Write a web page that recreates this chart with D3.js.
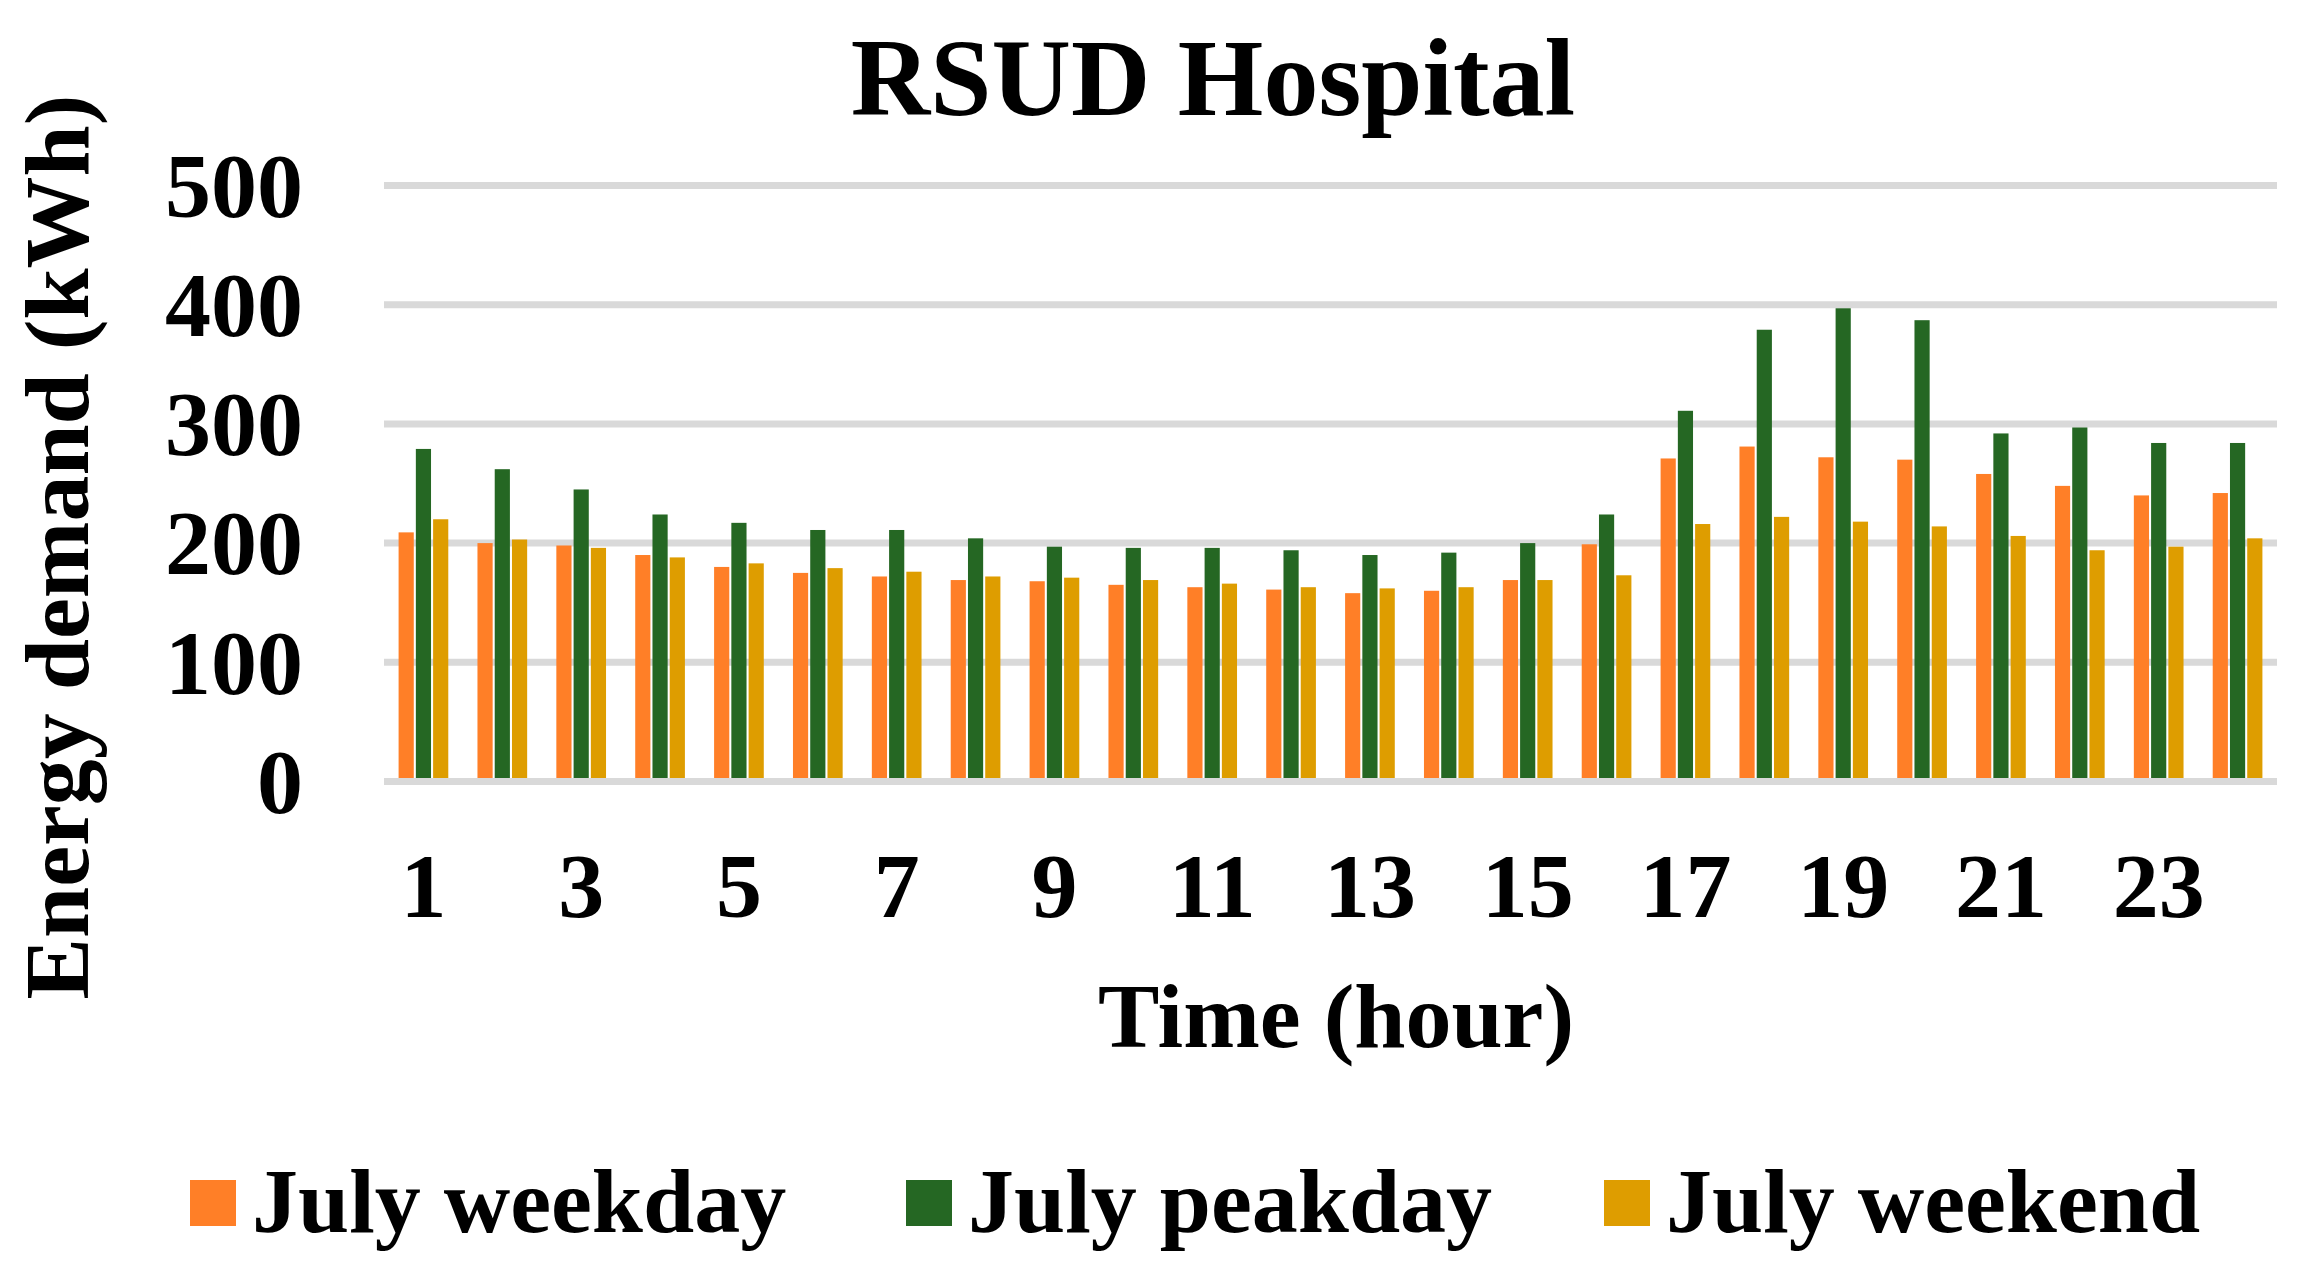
<!DOCTYPE html>
<html>
<head>
<meta charset="utf-8">
<script src="https://cdn.jsdelivr.net/npm/d3@7"></script>
<style>
  html, body { margin: 0; padding: 0; background: #fff; }
  text { font-family: "Liberation Serif", "Times New Roman", serif; font-weight: bold; fill: #000; }
</style>
</head>
<body>
<script>
// hours on the x axis
const hours = d3.range(1, 25);
const seriesNames = ['July weekday', 'July peakday', 'July weekend'];
const seriesColors = ['#FF7F27', '#256723', '#DE9D00'];

// values (kWh)
const weekday = [209, 200, 198, 190, 180, 175, 172, 169, 168, 165, 163, 161,
                 158, 160, 169, 199, 271, 281, 272, 270, 258, 248, 240, 242];
const peakday = [279, 262, 245, 224, 217, 211, 211, 204, 197, 196, 196, 194,
                 190, 192, 200, 224, 311, 379, 397, 387, 292, 297, 284, 284];
const weekend = [220, 203, 196, 188, 183, 179, 176, 172, 171, 169, 166, 163,
                 162, 163, 169, 173, 216, 222, 218, 214, 206, 194, 197, 204];
const yTicks = [0, 100, 200, 300, 400, 500];

const width = 2299, height = 1279;
const plotLeft = 384, plotRight = 2277, plotTop = 185.5, plotBottom = 781.5;

const svg = d3.select('body').append('svg')
    .attr('width', width)
    .attr('height', height);

const x0 = d3.scaleBand()
    .domain(hours)
    .range([plotLeft, plotRight])
    .paddingInner(0.37)
    .paddingOuter(0.185);

const x1 = d3.scaleBand()
    .domain(d3.range(3))
    .range([0, x0.bandwidth()])
    .paddingInner(0.12);

const y = d3.scaleLinear()
    .domain([0, 500])
    .range([plotBottom, plotTop]);

// gridlines
svg.append('g').selectAll('line')
    .data(yTicks.filter(d => d > 0))
    .enter().append('line')
    .attr('x1', plotLeft).attr('x2', plotRight)
    .attr('y1', d => y(d)).attr('y2', d => y(d))
    .attr('stroke', '#d9d9d9')
    .attr('stroke-width', 7);

// bars
const rows = hours.map((h, i) => ({ hour: h, vals: [weekday[i], peakday[i], weekend[i]] }));
const groups = svg.append('g').selectAll('g')
    .data(rows)
    .enter().append('g')
    .attr('transform', d => `translate(${x0(d.hour)},0)`);

groups.selectAll('rect')
    .data(d => d.vals.map((v, k) => ({ k: k, v: v })))
    .enter().append('rect')
    .attr('x', d => x1(d.k))
    .attr('width', x1.bandwidth())
    .attr('y', d => y(d.v))
    .attr('height', d => y(0) - 3.5 - y(d.v))
    .attr('fill', d => seriesColors[d.k]);

// zero line
svg.append('line')
    .attr('x1', plotLeft).attr('x2', plotRight)
    .attr('y1', y(0)).attr('y2', y(0))
    .attr('stroke', '#d9d9d9')
    .attr('stroke-width', 7);

// y tick labels
svg.append('g').selectAll('text')
    .data(yTicks)
    .enter().append('text')
    .attr('x', 303)
    .attr('y', d => y(d))
    .attr('dy', '0.34em')
    .attr('text-anchor', 'end')
    .style('font-size', '92px')
    .text(d => d);

// x tick labels (odd hours only)
svg.append('g').selectAll('text')
    .data(hours.filter(h => h % 2 === 1))
    .enter().append('text')
    .attr('x', d => x0(d) + x0.bandwidth() / 2)
    .attr('y', 917)
    .attr('text-anchor', 'middle')
    .style('font-size', '92px')
    .text(d => d);

// title
svg.append('text')
    .attr('x', 1213)
    .attr('y', 115)
    .attr('text-anchor', 'middle')
    .style('font-size', '110px')
    .text('RSUD Hospital');

// axis titles
svg.append('text')
    .attr('x', 1336)
    .attr('y', 1047)
    .attr('text-anchor', 'middle')
    .style('font-size', '92px')
    .text('Time (hour)');

svg.append('text')
    .attr('transform', 'translate(88,547) rotate(-90)')
    .attr('text-anchor', 'middle')
    .style('font-size', '92px')
    .text('Energy demand (kWh)');

// legend
const legendX = [190, 906, 1604];
const legend = svg.append('g').selectAll('g')
    .data(seriesNames)
    .enter().append('g')
    .attr('transform', (d, i) => `translate(${legendX[i]},1180)`);

legend.append('rect')
    .attr('width', 46).attr('height', 46)
    .attr('fill', (d, i) => seriesColors[i]);

legend.append('text')
    .attr('x', 62)
    .attr('y', 52)
    .style('font-size', '92px')
    .text(d => d);
</script>
</body>
</html>
